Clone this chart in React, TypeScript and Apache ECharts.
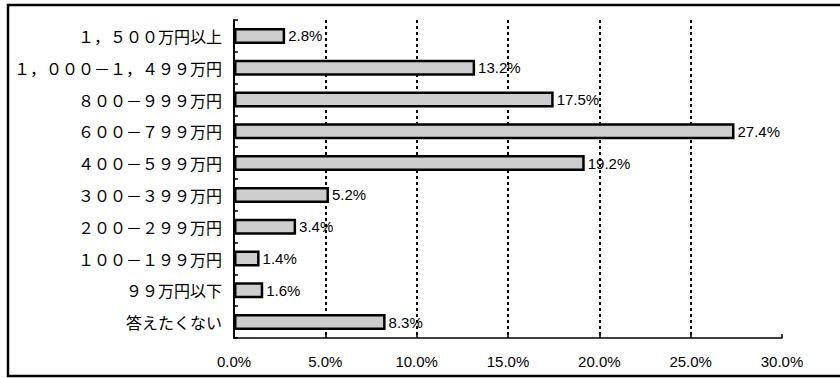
import React, { useEffect, useRef } from "react";
import * as echarts from "echarts";

// Household income brackets (top to bottom) and their share in percent
const categories: string[] = [
  "１，５００万円以上",
  "１，０００－１，４９９万円",
  "８００－９９９万円",
  "６００－７９９万円",
  "４００－５９９万円",
  "３００－３９９万円",
  "２００－２９９万円",
  "１００－１９９万円",
  "９９万円以下",
  "答えたくない",
];
const shares: number[] = [2.8, 13.2, 17.5, 27.4, 19.2, 5.2, 3.4, 1.4, 1.6, 8.3];

// Percentage axis
const axisMin = 0;
const axisMax = 30;
const axisStep = 5;

const latin = "'Liberation Sans', Arial, sans-serif";
const cjk = "'Noto Sans CJK JP', sans-serif";

export default function App() {
  const ref = useRef<HTMLDivElement>(null);

  useEffect(() => {
    if (!ref.current) return;
    const chart = echarts.init(ref.current, null, { renderer: "svg" });
    chart.setOption({
      animation: false,
      backgroundColor: "#ffffff",
      grid: { left: 234, top: 20, width: 548, height: 318, containLabel: false },
      xAxis: {
        type: "value",
        min: axisMin,
        max: axisMax,
        interval: axisStep,
        axisLine: { show: true, lineStyle: { color: "#000", width: 1.5 } },
        axisTick: { show: true, inside: true, length: 4, lineStyle: { color: "#000", width: 1.5 } },
        axisLabel: {
          color: "#000",
          fontFamily: latin,
          fontSize: 15,
          margin: 16,
          formatter: (v: number) => v.toFixed(1) + "%",
        },
        splitLine: {
          show: true,
          showMinLine: false,
          showMaxLine: false,
          lineStyle: { color: "#000", width: 2, type: [3, 3] },
        },
      },
      yAxis: {
        type: "category",
        data: categories,
        inverse: true,
        axisLine: { show: true, lineStyle: { color: "#000", width: 2 } },
        axisTick: { show: true, inside: true, length: 4, lineStyle: { color: "#000", width: 1.5 } },
        axisLabel: { color: "#000", fontFamily: cjk, fontSize: 16, margin: 12 },
        splitLine: { show: false },
      },
      series: [
        {
          type: "bar",
          data: shares,
          barWidth: 16,
          itemStyle: { color: "#cdcdcd", borderColor: "#000", borderWidth: 2.5 },
          label: {
            show: true,
            position: "right",
            distance: 3,
            color: "#000",
            fontFamily: latin,
            fontSize: 15,
            formatter: (p: any) => Number(p.value).toFixed(1) + "%",
          },
        },
      ],
      graphic: [
        {
          type: "rect",
          silent: true,
          shape: { x: 8, y: 5, width: 850, height: 371 },
          style: { fill: "none", stroke: "#000", lineWidth: 2.5 },
        },
      ],
    });
    return () => chart.dispose();
  }, []);

  return (
    <div
      ref={ref}
      style={{ position: "fixed", left: 0, top: 0, width: 840, height: 378 }}
    />
  );
}
